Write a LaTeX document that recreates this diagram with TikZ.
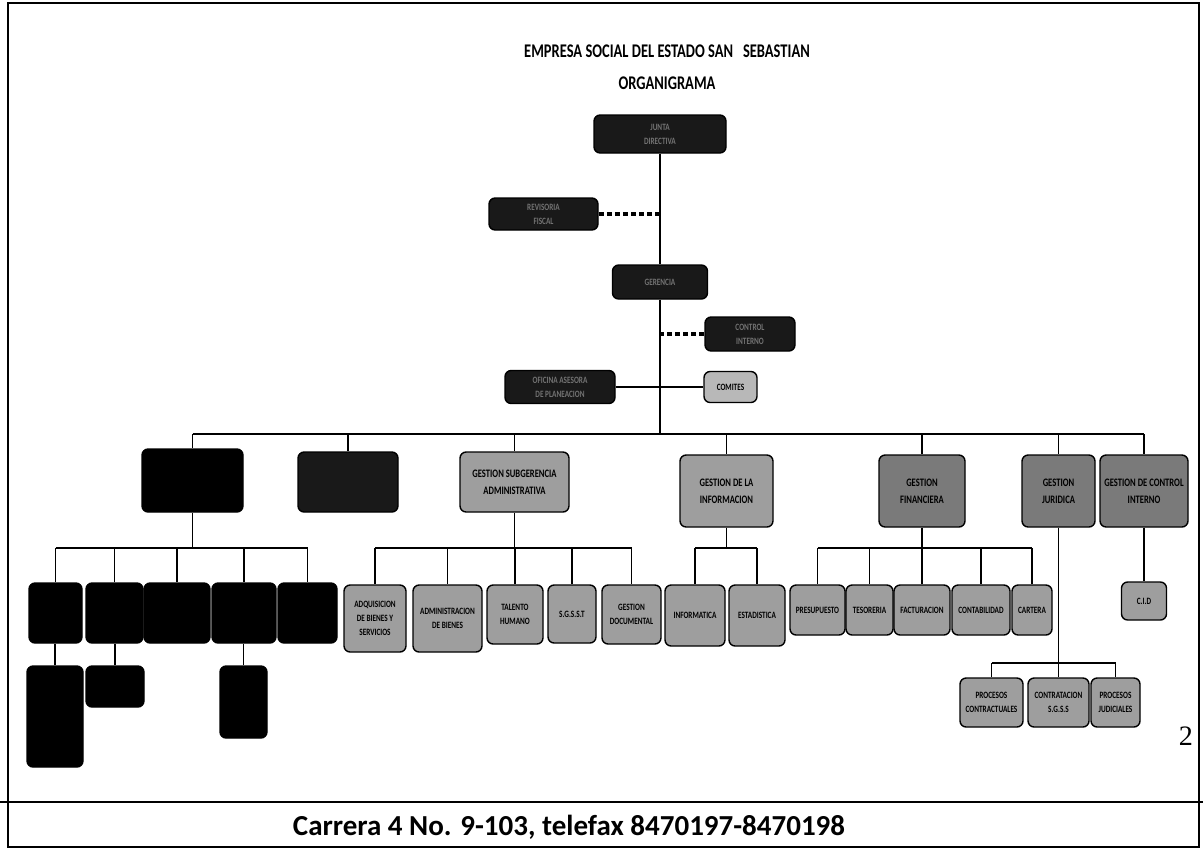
\documentclass[tikz,border=0pt]{standalone}
\usepackage{fontspec}
\setmainfont{Carlito}
\newfontfamily\narrow[FakeStretch=0.75]{Carlito}
\newfontfamily\numfont{Liberation Serif}

\begin{document}
\begin{tikzpicture}[x=0.02cm, y=-0.02cm,
  sz/.style 2 args={minimum width=#1*0.02cm, minimum height=#2*0.02cm},
  box/.style={
    rectangle, draw, line width=0.8pt, rounded corners=3.5pt,
    align=center, inner sep=1pt,
    font=\narrow\bfseries\fontsize{5.5}{8}\selectfont
  },
  dark/.style={box, fill=black!90, text=black!55},
  solid/.style={box, fill=black},
  lite/.style={box, fill=black!28},
  grey/.style={box, fill=black!38},
  greyd/.style={box, fill=black!52},
  head/.style={font=\narrow\bfseries\fontsize{6.5}{9.5}\selectfont},
  lnk/.style={line width=1pt},
  dlnk/.style={line width=1.8pt, dash pattern=on 3pt off 1.6pt}
]
\useasboundingbox (0,0) rectangle (1203,850);
\draw[line width=1.6pt] (8,3) rectangle (1199,847);
\draw[line width=1pt] (0,802) -- (1203,802);

\node[font=\narrow\bfseries\fontsize{11}{13}\selectfont] (tit1) at (667,51) {EMPRESA SOCIAL DEL ESTADO SAN \ \ SEBASTIAN};
\node[font=\narrow\bfseries\fontsize{11}{13}\selectfont] (tit2) at (667,83) {ORGANIGRAMA};
\node[font=\bfseries\fontsize{16.5}{19}\selectfont] (foot) at (569,827) {Carrera 4 No. 9-103, telefax 8470197-8470198};
\node[font=\numfont\fontsize{16}{18}\selectfont] (pag) at (1186,736) {2};

\node[dark, sz={132}{38}] (junta) at (660,134) {JUNTA\\DIRECTIVA};
\node[dark, sz={109}{32}] (revisor) at (543.5,214) {REVISORIA\\FISCAL};
\node[dark, sz={95}{34}] (gerencia) at (660,282) {GERENCIA};
\node[dark, sz={90}{34}] (control) at (750,334) {CONTROL\\INTERNO};
\node[dark, sz={110}{33}] (planea) at (560,387) {OFICINA ASESORA\\DE PLANEACION};
\node[lite, sz={53}{31}] (comites) at (730.5,387) {COMITES};
\coordinate (bus) at (660,434);

\node[solid, sz={101}{63}] (ka) at (192.5,480.5) {};
\node[dark, sz={100}{60}] (kb) at (348,482) {};
\node[grey, head, sz={109}{60}] (gsa) at (514.5,482) {GESTION SUBGERENCIA\\ADMINISTRATIVA};
\node[grey, head, sz={93}{72}] (gi) at (726.5,491) {GESTION DE LA\\INFORMACION};
\node[greyd, head, sz={86}{72}] (gf) at (922,491) {GESTION\\FINANCIERA};
\node[greyd, head, sz={73}{72}] (gj) at (1058.5,491) {GESTION\\JURIDICA};
\node[greyd, head, sz={88}{72}] (gc) at (1144,491) {GESTION DE CONTROL\\INTERNO};
\coordinate (bus2) at (0,548);

\node[solid, sz={53}{60}] (k1) at (55.5,613) {};
\node[solid, sz={57}{60}] (k2) at (114.5,613) {};
\node[solid, sz={66}{60}] (k3) at (177,613) {};
\node[solid, sz={64}{60}] (k4) at (244,613) {};
\node[solid, sz={59}{60}] (k5) at (307.5,613) {};
\node[solid, sz={56}{101}] (s1) at (55,716.5) {};
\node[solid, sz={58}{41}] (s2) at (115,686.5) {};
\node[solid, sz={47}{72}] (s4) at (243.5,702) {};

\node[grey, sz={62}{67}] (a1) at (375,618.5) {ADQUISICION\\DE BIENES Y\\SERVICIOS};
\node[grey, sz={69}{67}] (a2) at (447.5,618.5) {ADMINISTRACION\\DE BIENES};
\node[grey, sz={56}{59}] (a3) at (515,614.5) {TALENTO\\HUMANO};
\node[grey, sz={48}{58}] (a4) at (572,614) {S.G.S.S.T};
\node[grey, sz={59}{59}] (a5) at (631.5,614.5) {GESTION\\DOCUMENTAL};

\node[grey, sz={60}{61}] (i1) at (695,615.5) {INFORMATICA};
\node[grey, sz={56}{61}] (i2) at (757,615.5) {ESTADISTICA};

\node[grey, sz={55}{50}] (f1) at (817.5,610) {PRESUPUESTO};
\node[grey, sz={47}{50}] (f2) at (869.5,610) {TESORERIA};
\node[grey, sz={56}{50}] (f3) at (922,610) {FACTURACION};
\node[grey, sz={58}{50}] (f4) at (981,610) {CONTABILIDAD};
\node[grey, sz={40}{50}] (f5) at (1032,610) {CARTERA};

\node[grey, sz={45}{38}] (cid) at (1144,601) {C.I.D};
\coordinate (bus3) at (0,663);
\node[grey, sz={63}{49}] (j1) at (991.5,702.5) {PROCESOS\\CONTRACTUALES};
\node[grey, sz={61}{49}] (j2) at (1058.5,702.5) {CONTRATACION\\S.G.S.S};
\node[grey, sz={49}{49}] (j3) at (1115.5,702.5) {PROCESOS\\JUDICIALES};

\draw[lnk] (junta.south) -- (gerencia.north);
\draw[lnk] (gerencia.south) -- (bus);
\draw[dlnk] (revisor.east) -- (revisor.east -| junta.south);
\draw[dlnk] (control.west) -- (control.west -| gerencia.south);
\draw[lnk] (planea.east) -- (comites.west);

\draw[lnk] (ka.north |- bus) -- (gc.north |- bus);
\foreach \n in {ka,kb,gsa,gi,gf,gj,gc}
  \draw[lnk] (\n.north |- bus) -- (\n.north);

\draw[lnk] (ka.south) -- (ka.south |- bus2);
\draw[lnk] (k1.north |- bus2) -- (k5.north |- bus2);
\foreach \n in {k1,k2,k3,k4,k5}
  \draw[lnk] (\n.north |- bus2) -- (\n.north);
\draw[lnk] (k1.south -| s1.north) -- (s1.north);
\draw[lnk] (k2.south -| s2.north) -- (s2.north);
\draw[lnk] (k4.south -| s4.north) -- (s4.north);

\draw[lnk] (gsa.south) -- (gsa.south |- bus2);
\draw[lnk] (a1.north |- bus2) -- (a5.north |- bus2);
\foreach \n in {a1,a2,a3,a4,a5}
  \draw[lnk] (\n.north |- bus2) -- (\n.north);

\draw[lnk] (gi.south) -- (gi.south |- bus2);
\draw[lnk] (i1.north |- bus2) -- (i2.north |- bus2);
\foreach \n in {i1,i2}
  \draw[lnk] (\n.north |- bus2) -- (\n.north);

\draw[lnk] (gf.south) -- (gf.south |- bus2);
\draw[lnk] (f1.north |- bus2) -- (f5.north |- bus2);
\foreach \n in {f1,f2,f3,f4,f5}
  \draw[lnk] (\n.north |- bus2) -- (\n.north);

\draw[lnk] (gc.south) -- (cid.north);

\draw[lnk] (gj.south) -- (j2.north);
\draw[lnk] (j1.north |- bus3) -- (j3.north |- bus3);
\foreach \n in {j1,j3}
  \draw[lnk] (\n.north |- bus3) -- (\n.north);

\end{tikzpicture}
\end{document}
